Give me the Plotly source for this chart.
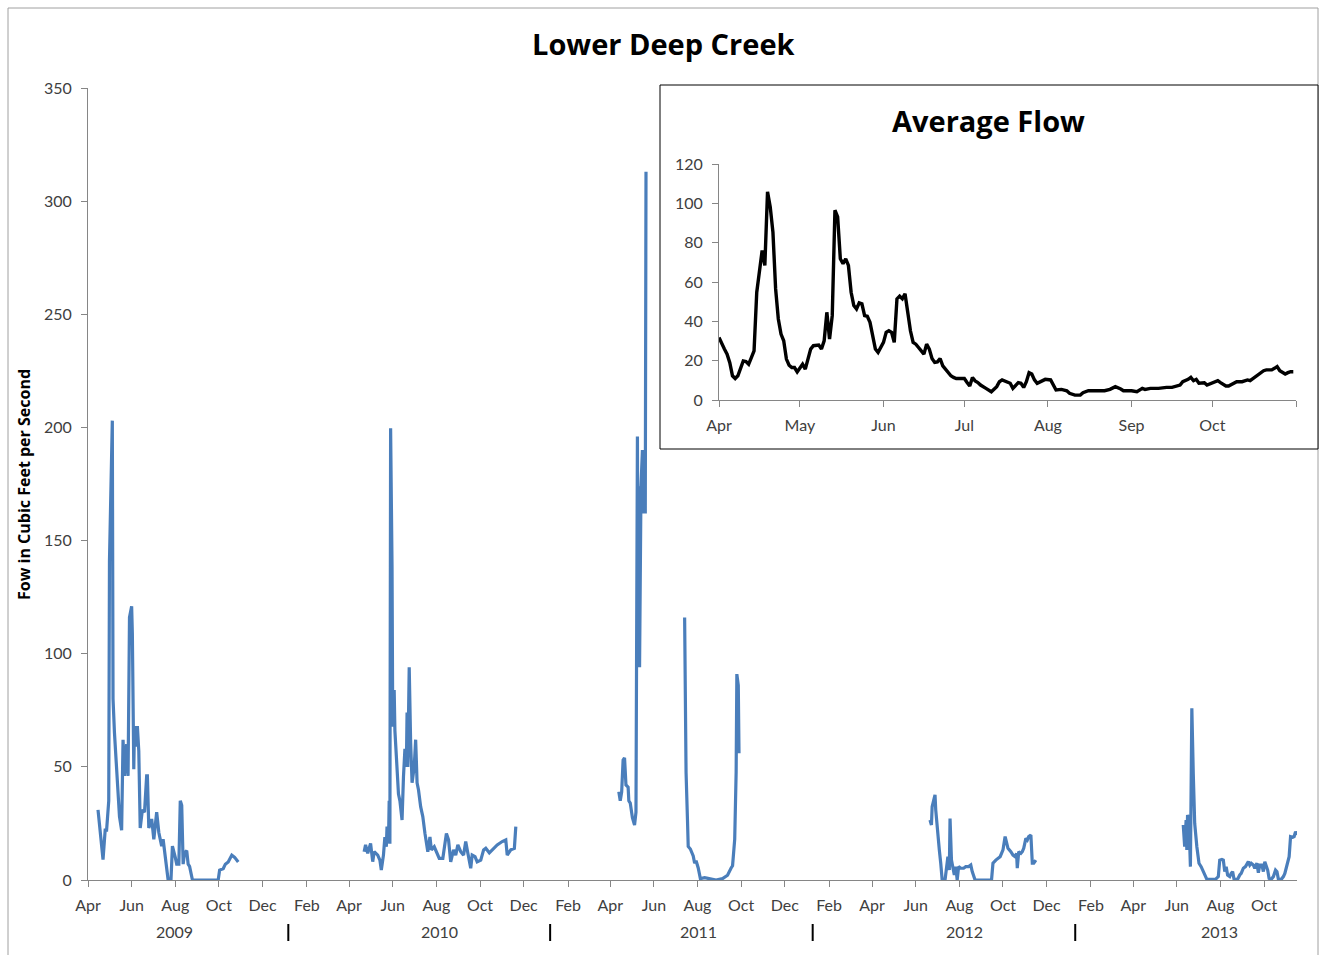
import pandas as pd
import plotly.graph_objects as go

# ---------------- data ----------------
dates_2009 = ["2009-04-15","2009-04-22","2009-04-25","2009-04-27","2009-04-30","2009-05-01","2009-05-05","2009-05-06",
              "2009-05-08","2009-05-11","2009-05-13","2009-05-15","2009-05-18","2009-05-20","2009-05-22","2009-05-25",
              "2009-05-27","2009-05-29","2009-06-01","2009-06-02","2009-06-04","2009-06-05","2009-06-08","2009-06-09",
              "2009-06-11","2009-06-13","2009-06-16","2009-06-19","2009-06-22","2009-06-23","2009-06-25","2009-06-29",
              "2009-07-02","2009-07-06","2009-07-09","2009-07-13","2009-07-15","2009-07-17","2009-07-20","2009-07-22",
              "2009-07-26","2009-07-28","2009-08-01","2009-08-03","2009-08-06","2009-08-08","2009-08-10","2009-08-12",
              "2009-08-14","2009-08-17","2009-08-19","2009-08-21","2009-08-25","2009-09-30","2009-10-02","2009-10-07",
              "2009-10-10","2009-10-14","2009-10-19","2009-10-23","2009-10-28"]
flow_2009 = [31, 9, 22, 22, 35, 141, 203, 80, 65, 50, 35, 28, 22, 62, 46, 60, 46, 116, 121, 109, 49, 68, 59, 68, 57,
             23, 31, 30, 46, 46, 23, 27, 18, 30, 21, 15, 18, 13, 6, 0, 0, 15, 10, 7, 7, 35, 33, 7, 12, 13, 7, 6, 0, 0,
             4.4, 5, 7, 8, 11, 10, 8]

dates_2010 = ["2010-04-22","2010-04-24","2010-04-27","2010-04-29","2010-05-01","2010-05-04","2010-05-06","2010-05-11",
              "2010-05-14","2010-05-16","2010-05-19","2010-05-21","2010-05-23","2010-05-24","2010-05-26","2010-05-27",
              "2010-05-28","2010-05-29","2010-05-31","2010-06-01","2010-06-03","2010-06-04","2010-06-06","2010-06-09",
              "2010-06-11","2010-06-14","2010-06-16","2010-06-18","2010-06-20","2010-06-21","2010-06-22","2010-06-24",
              "2010-06-26","2010-06-28","2010-07-01","2010-07-03","2010-07-05","2010-07-07","2010-07-10","2010-07-13",
              "2010-07-16","2010-07-20","2010-07-23","2010-07-25","2010-07-29","2010-08-02","2010-08-05","2010-08-10",
              "2010-08-12","2010-08-15","2010-08-18","2010-08-21","2010-08-25","2010-08-28","2010-08-31","2010-09-04",
              "2010-09-08","2010-09-11","2010-09-14","2010-09-18","2010-09-20","2010-09-24","2010-09-27","2010-10-02",
              "2010-10-06","2010-10-09","2010-10-14","2010-10-18","2010-10-25","2010-11-01","2010-11-06","2010-11-08",
              "2010-11-13","2010-11-18","2010-11-20"]
flow_2010 = [12.5, 15.5, 11.8, 14.7, 16.2, 8.1, 12.5, 11, 8.8, 4.4, 11, 19, 14.7, 23.6, 16.2, 35, 16, 199.6, 138, 67.7,
             84, 66, 53, 38, 35, 26.5, 45.7, 58, 50, 74, 50, 94, 60.7, 43, 50, 62, 43, 39.8, 32.4, 28, 20.6, 12.5, 19,
             13.3, 14.7, 11.8, 9.6, 9.6, 13.3, 20.6, 17.7, 8, 13.3, 11, 15.5, 12.5, 11, 17, 11.8, 5.2, 11, 10.3, 8, 8.8,
             13.3, 14, 12, 13.3, 15.5, 17, 17.7, 11, 13.3, 14, 23.6]

dates_2011a = ["2011-04-13","2011-04-15","2011-04-17","2011-04-19","2011-04-21","2011-04-23","2011-04-26","2011-04-27",
               "2011-04-29","2011-05-02","2011-05-05","2011-05-07","2011-05-09","2011-05-10","2011-05-11","2011-05-12",
               "2011-05-14","2011-05-16","2011-05-18","2011-05-19","2011-05-20","2011-05-21"]
flow_2011a = [39, 35, 39, 53, 54, 42, 41, 35, 34, 27.5, 24.3, 30, 196, 98, 174, 94, 174, 190, 162, 187, 162, 313]

dates_2011b = ["2011-07-14","2011-07-15","2011-07-16","2011-07-18","2011-07-19","2011-07-22","2011-07-24","2011-07-26",
               "2011-07-28","2011-07-30","2011-08-02","2011-08-05","2011-08-11","2011-08-18","2011-08-27","2011-09-05",
               "2011-09-12","2011-09-17","2011-09-19","2011-09-22","2011-09-24","2011-09-25","2011-09-27","2011-09-28"]
flow_2011b = [116, 79, 47.6, 26.4, 14.8, 13.7, 11.7, 10.6, 7.4, 8.5, 5.3, 0.6, 1, 0.6, 0, 0.6, 2.1, 5.3, 6.3, 18, 47.6,
              91, 86, 56]

dates_2012 = ["2012-06-21","2012-06-23","2012-06-24","2012-06-26","2012-06-28","2012-06-29","2012-07-01","2012-07-04",
              "2012-07-06","2012-07-08","2012-07-12","2012-07-14","2012-07-16","2012-07-18","2012-07-19","2012-07-21",
              "2012-07-23","2012-07-25","2012-07-27","2012-07-29","2012-07-31","2012-08-03","2012-08-07","2012-08-10",
              "2012-08-14","2012-08-17","2012-08-19","2012-08-21","2012-08-23","2012-09-15","2012-09-17","2012-09-21",
              "2012-09-24","2012-09-27","2012-09-29","2012-10-01","2012-10-04","2012-10-06","2012-10-08","2012-10-12",
              "2012-10-15","2012-10-18","2012-10-20","2012-10-21","2012-10-23","2012-10-26","2012-10-28","2012-10-30",
              "2012-11-02","2012-11-04","2012-11-06","2012-11-09","2012-11-10","2012-11-11","2012-11-13","2012-11-16"]
flow_2012 = [26.5, 24.3, 32.4, 34.6, 37.6, 31, 22, 13.3, 7.4, 0, 0, 4.4, 10.3, 4.4, 27.2, 8.8, 4.4, 2.2, 5.9, 0, 5.9,
             5.2, 5.2, 5.9, 5.9, 6.6, 3.7, 1.5, 0, 0, 7.4, 8.8, 9.6, 10.3, 11.8, 13.3, 19.2, 17, 14, 12.5, 11, 10.3,
             11.8, 5.2, 12.5, 11.8, 12.5, 14, 18.4, 17.7, 19.2, 19.9, 14, 7.4, 7.4, 8.8]

dates_2013 = ["2013-06-10","2013-06-11","2013-06-12","2013-06-14","2013-06-15","2013-06-16","2013-06-18","2013-06-20",
              "2013-06-21","2013-06-22","2013-06-24","2013-06-26","2013-06-29","2013-07-02","2013-07-05","2013-07-08",
              "2013-07-10","2013-07-13","2013-07-16","2013-07-21","2013-07-25","2013-07-29","2013-07-31","2013-08-03",
              "2013-08-05","2013-08-07","2013-08-09","2013-08-11","2013-08-14","2013-08-16","2013-08-18","2013-08-20",
              "2013-08-25","2013-08-28","2013-08-30","2013-09-02","2013-09-05","2013-09-09","2013-09-11","2013-09-13",
              "2013-09-16","2013-09-18","2013-09-21","2013-09-23","2013-09-25","2013-09-28","2013-09-30","2013-10-02",
              "2013-10-06","2013-10-08","2013-10-11","2013-10-14","2013-10-17","2013-10-19","2013-10-21","2013-10-25",
              "2013-10-28","2013-10-30","2013-11-02","2013-11-05","2013-11-07","2013-11-10","2013-11-12","2013-11-14",
              "2013-11-16"]
flow_2013 = [24.3, 20.6, 14.7, 26.5, 13.3, 28.7, 26.5, 5.9, 44, 75.9, 47, 25, 14.7, 7.4, 5.9, 3.7, 2.9, 0.3, 0.3, 0.3,
             0.3, 1.5, 8.8, 9.1, 8.8, 3.7, 5.9, 2.2, 1.5, 2.9, 3.7, 0.3, 0.3, 2.2, 2.9, 5.2, 5.9, 8.1, 6.6, 7.4, 6.6,
             5.2, 7.4, 3.2, 6.6, 6.6, 3.7, 8.1, 4.4, 0.7, 0.3, 1.5, 4.4, 3.7, 0.3, 0.3, 1.5, 2.9, 6.6, 10.3, 19.2,
             18.9, 19.2, 21.4, 19.9]

# inset: average flow (month-day)
avg_dates = ["04-01","04-02","04-03","04-04","04-05","04-06","04-07","04-08","04-09","04-10","04-11","04-12","04-13",
             "04-14","04-15","04-16","04-17","04-18","04-19","04-20","04-21","04-22","04-23","04-24","04-25","04-26",
             "04-27","04-28","04-29","04-30","05-01","05-02","05-03","05-04","05-05","05-06","05-07","05-08","05-09",
             "05-10","05-11","05-12","05-13","05-14","05-15","05-16","05-17","05-18","05-19","05-20","05-21","05-22",
             "05-23","05-24","05-25","05-26","05-27","05-28","05-29","05-30","05-31","06-01","06-02","06-03","06-04",
             "06-05","06-06","06-07","06-08","06-09","06-10","06-11","06-12","06-13","06-14","06-15","06-16","06-17",
             "06-18","06-19","06-20","06-21","06-22","06-23","06-24","06-25","06-26","06-27","06-28","06-29","06-30",
             "07-01","07-02","07-03","07-04","07-05","07-06","07-07","07-09","07-11","07-13","07-14","07-15","07-17",
             "07-18","07-19","07-20","07-21","07-22","07-23","07-24","07-25","07-26","07-27","07-28","07-29","07-30",
             "07-31","08-02","08-03","08-04","08-06","08-08","08-09","08-11","08-13","08-14","08-16","08-19","08-22",
             "08-24","08-26","08-28","08-29","09-01","09-03","09-05","09-06","09-08","09-10","09-11","09-14","09-16",
             "09-19","09-20","09-22","09-23","09-24","09-25","09-26","09-28","09-29","10-01","10-03","10-04","10-06",
             "10-07","10-09","10-10","10-12","10-14","10-15","10-17","10-18","10-20","10-21","10-23","10-24","10-25",
             "10-26","10-28","10-29","10-30","10-31"]
avg_flow = [31.8, 28.4, 25.9, 23.3, 19.0, 12.3, 10.9, 12.3, 16.5, 19.9, 19.6, 18.2, 21.6, 25.0, 54.8, 66.0, 76.0, 68.4,
            105.9, 98.2, 85.4, 56.5, 41.2, 33.5, 30.1, 20.8, 17.7, 16.5, 16.5, 14.3, 16.5, 18.2, 15.7, 21.6, 25.9, 27.6,
            27.9, 27.9, 25.9, 30.1, 44.6, 31.0, 42.9, 96.5, 93.1, 71.8, 69.3, 71.8, 68.4, 54.8, 48.0, 46.3, 49.4, 48.9,
            42.9, 42.6, 39.5, 32.7, 25.9, 24.2, 26.7, 29.3, 34.4, 35.2, 34.4, 29.3, 51.4, 52.8, 51.5, 54.0, 44.6, 35.2,
            29.3, 28.4, 26.7, 25.0, 23.3, 28.4, 25.9, 21.1, 19.1, 19.4, 21.1, 17.4, 15.5, 14.3, 12.3, 11.5, 10.9, 10.9,
            10.9, 10.9, 8.9, 7.1, 11.4, 9.7, 8.9, 7.6, 5.9, 4.2, 6.8, 9.3, 10.2, 9.3, 8.5, 5.9, 7.6, 8.8, 8.5, 6.4,
            9.3, 13.9, 13.2, 10.2, 8.5, 9.3, 10.2, 10.5, 10.2, 7.6, 5.1, 5.4, 4.7, 3.4, 2.5, 2.5, 3.7, 4.7, 4.7, 4.7,
            5.4, 6.8, 5.6, 4.7, 4.7, 4.2, 5.9, 5.4, 5.9, 5.9, 5.9, 6.4, 6.4, 7.6, 9.3, 10.5, 11.5, 9.8, 10.5, 8.5, 8.8,
            7.6, 8.8, 9.8, 8.8, 7.1, 7.1, 8.8, 9.3, 9.3, 10.2, 9.8, 11.9, 13.2, 14.9, 15.3, 15.3, 16.1, 17.0, 14.9,
            13.2, 13.9, 14.4, 14.4]

years = ["2009", "2010", "2011", "2012", "2013"]
year_label_dates = ["2009-07-31", "2010-08-06", "2011-08-03", "2012-08-08", "2013-07-31"]
year_sep_dates = ["2010-01-06", "2011-01-07", "2012-01-09", "2013-01-10"]
inset_month_labels = ["Apr", "May", "Jun", "Jul", "Aug", "Sep", "Oct", ""]

# ---------------- figure ----------------
W, H = 1321, 955
L, R, T, B = 88, 24, 88, 75
pw, ph = W - L - R, H - T - B


def px(xp):
    return (xp - L) / pw


def py(yp):
    return (H - B - yp) / ph


BLUE = "#4A7EBB"
AXC = "#868686"
TXT = "#404040"
FONT = "Lato, 'Open Sans', sans-serif"
BOLD = "'Open Sans', Lato, sans-serif"

fig = go.Figure()
segments = [(dates_2009, flow_2009), (dates_2010, flow_2010), (dates_2011a, flow_2011a),
            (dates_2011b, flow_2011b), (dates_2012, flow_2012), (dates_2013, flow_2013)]
for d, v in segments:
    fig.add_trace(go.Scatter(x=d, y=v, mode="lines", line=dict(color=BLUE, width=3.2),
                             showlegend=False, xaxis="x", yaxis="y"))

inset_x = ["2000-" + d for d in avg_dates]
fig.add_trace(go.Scatter(x=inset_x, y=avg_flow, mode="lines", line=dict(color="black", width=3.4),
                         showlegend=False, xaxis="x2", yaxis="y2"))

main_ticks = pd.date_range("2009-04-01", "2013-10-01", freq="2MS")
inset_ticks = pd.date_range("2000-04-01", "2000-11-01", freq="MS")

fig.update_layout(
    width=W, height=H,
    margin=dict(l=L, r=R, t=T, b=B),
    paper_bgcolor="white", plot_bgcolor="rgba(0,0,0,0)",
    font=dict(family=FONT, size=16, color=TXT),
    xaxis=dict(type="date", range=["2009-04-01", "2013-11-16"], tickmode="array",
               tickvals=list(main_ticks), ticktext=[t.strftime("%b") for t in main_ticks],
               showline=True, linecolor=AXC, linewidth=1, ticks="outside", tickcolor=AXC, ticklen=6,
               showgrid=False, zeroline=False, ticklabelstandoff=5, tickfont=dict(size=16, color=TXT)),
    yaxis=dict(range=[0, 350], dtick=50, showline=True, linecolor=AXC, linewidth=1, ticks="outside",
               tickcolor=AXC, ticklen=6, showgrid=False, zeroline=False, ticklabelstandoff=6,
               tickfont=dict(size=16, color=TXT)),
    xaxis2=dict(type="date", domain=[px(719), px(1296)], anchor="y2",
                range=["2000-04-01", "2000-11-01"], tickmode="array",
                tickvals=list(inset_ticks), ticktext=inset_month_labels,
                showline=True, linecolor=AXC, linewidth=1, ticks="outside", tickcolor=AXC, ticklen=6,
                showgrid=False, zeroline=False, ticklabelstandoff=5, tickfont=dict(size=16, color=TXT)),
    yaxis2=dict(domain=[py(400), py(164)], anchor="x2", range=[0, 120], dtick=20,
                showline=True, linecolor=AXC, linewidth=1, ticks="outside", tickcolor=AXC, ticklen=6,
                showgrid=False, zeroline=False, ticklabelstandoff=6, tickfont=dict(size=16, color=TXT)),
)

shapes = [
    dict(type="rect", xref="paper", yref="paper", x0=px(8), x1=px(1318), y0=py(962), y1=py(8),
         line=dict(color="#A0A0A0", width=1), fillcolor="rgba(0,0,0,0)", layer="below"),
    dict(type="rect", xref="paper", yref="paper", x0=px(660), x1=px(1318), y0=py(449), y1=py(85),
         line=dict(color="black", width=1), fillcolor="white", layer="below"),
]
for d in year_sep_dates:
    shapes.append(dict(type="line", xref="x", yref="paper", x0=d, x1=d, y0=py(941), y1=py(924),
                       line=dict(color="black", width=2)))
fig.update_layout(shapes=shapes)

ann = [
    dict(text="<b>Lower Deep Creek</b>", xref="paper", yref="paper", x=px(663), y=py(44),
         xanchor="center", yanchor="middle", showarrow=False, font=dict(family=BOLD, size=29, color="black")),
    dict(text="<b>Average Flow</b>", xref="paper", yref="paper", x=px(988), y=py(121),
         xanchor="center", yanchor="middle", showarrow=False, font=dict(family=BOLD, size=29, color="black")),
    dict(text="<b>Fow in Cubic Feet per Second</b>", xref="paper", yref="paper", x=px(24), y=py(485),
         xanchor="center", yanchor="middle", textangle=-90, showarrow=False,
         font=dict(family=BOLD, size=16, color="black")),
]
for yl, d in zip(years, year_label_dates):
    ann.append(dict(text=yl, xref="x", yref="paper", x=d, y=py(931), xanchor="center", yanchor="middle",
                    showarrow=False, font=dict(family=FONT, size=16, color=TXT)))
fig.update_layout(annotations=ann)

fig.write_html("out.html")
